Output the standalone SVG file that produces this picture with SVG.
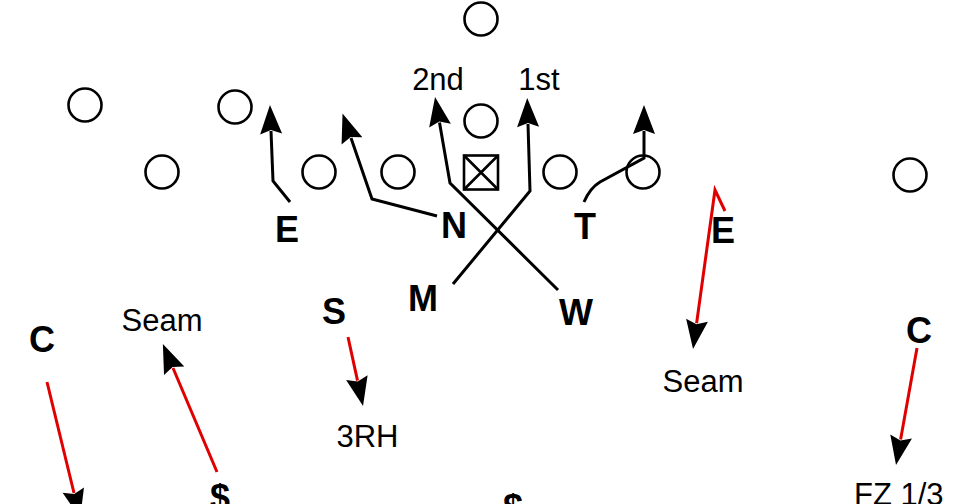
<svg xmlns="http://www.w3.org/2000/svg" width="960" height="504" viewBox="0 0 960 504">
<style>
.pl{fill:none;stroke:#000;stroke-width:2.6}
.rt{fill:none;stroke:#000;stroke-width:3;stroke-linejoin:miter}
.rd{fill:none;stroke:#e00000;stroke-width:3}
.lb{font-family:"Liberation Sans",Arial,sans-serif;font-weight:bold;font-size:36px;fill:#000;text-anchor:middle}
.tx{font-family:"Liberation Sans",Arial,sans-serif;font-size:31px;fill:#000;text-anchor:middle}
.ts{text-anchor:start}
</style>
<defs>
<marker id="ah" viewBox="-4 -12 32 24" markerWidth="32" markerHeight="24" refX="0" refY="0" orient="auto" markerUnits="userSpaceOnUse">
<path d="M26,0 L-3,-11 L1,0 L-3,11 Z" fill="#000"/>
</marker>
</defs>
<rect width="960" height="504" fill="#fff"/>
<g id="offense">
<circle class="pl" cx="85" cy="105" r="16.5"/>
<circle class="pl" cx="235" cy="107" r="16.5"/>
<circle class="pl" cx="162" cy="172" r="16.5"/>
<circle class="pl" cx="319" cy="172" r="16.5"/>
<circle class="pl" cx="398" cy="172" r="16.5"/>
<circle class="pl" cx="481" cy="19" r="16.5"/>
<circle class="pl" cx="481" cy="121" r="16.5"/>
<circle class="pl" cx="560" cy="172" r="16.5"/>
<circle class="pl" cx="643" cy="172" r="16.5"/>
<circle class="pl" cx="910" cy="175" r="16.5"/>
<g id="center">
<rect class="pl" x="464" y="155.5" width="34" height="34" stroke-width="3"/>
<path class="pl" d="M464,155.5 L498,189.5 M498,155.5 L464,189.5"/>
</g>
</g>
<g id="connectors">
<path class="rt" d="M290,202 L273,181 L271,131" marker-end="url(#ah)"/>
<path class="rt" d="M437,216 L372,199 L351,138" marker-end="url(#ah)"/>
<path class="rt" d="M558,290 L450,183 L439.5,122.6" marker-end="url(#ah)"/>
<path class="rt" d="M453,284 L530,191 L528,124" marker-end="url(#ah)"/>
<path class="rt" d="M584,202 Q590,188 600,182 L644,158 L644,131" marker-end="url(#ah)"/>
<path class="rd" d="M47,382 L74,493" marker-end="url(#ah)"/>
<path class="rd" d="M217,472 L173,368" marker-end="url(#ah)"/>
<path class="rd" d="M348,337 L357.5,380.6" marker-end="url(#ah)"/>
<path class="rd" d="M725,211 L715,190 L696.6,323.2" marker-end="url(#ah)"/>
<path class="rd" d="M917,348 L900.6,439.4" marker-end="url(#ah)"/>
</g>
<g id="defense">
<text class="lb" x="287" y="242">E</text>
<text class="lb" x="454" y="238">N</text>
<text class="lb" x="585" y="239">T</text>
<text class="lb" x="723" y="243">E</text>
<text class="lb" x="423" y="311">M</text>
<text class="lb" x="576" y="325">W</text>
<text class="lb" x="334" y="324">S</text>
<text class="lb" x="42" y="352">C</text>
<text class="lb" x="919" y="343">C</text>
<text class="lb" x="220" y="510">$</text>
<text class="lb" x="513" y="520">$</text>
</g>
<g id="labels">
<text class="tx" x="438" y="90">2nd</text>
<text class="tx" x="539" y="90">1st</text>
<text class="tx" x="162" y="331">Seam</text>
<text class="tx" x="703" y="392">Seam</text>
<text class="tx" x="367.5" y="447">3RH</text>
<text class="tx ts" x="854" y="505">FZ 1/3</text>
</g>
</svg>
